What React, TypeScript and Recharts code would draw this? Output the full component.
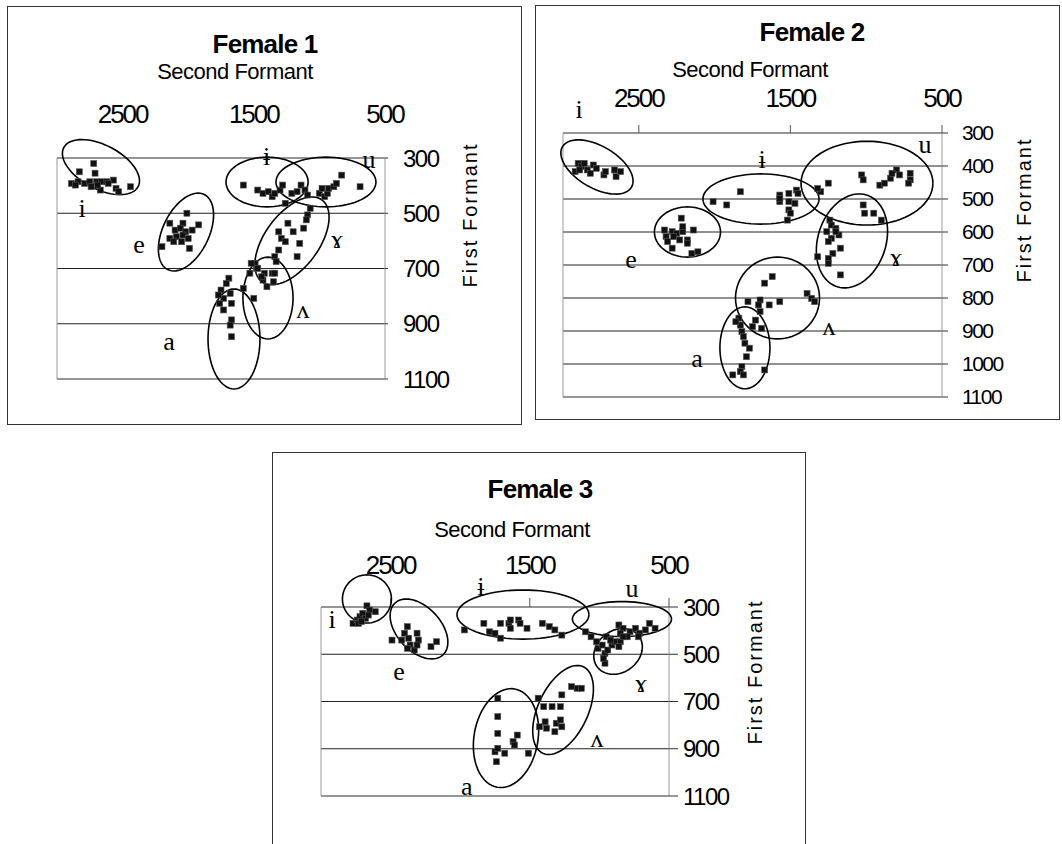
import React from "react";
import { ScatterChart, Scatter, XAxis, YAxis, CartesianGrid, ReferenceArea } from "recharts";

// ---------- Female 1 (F2 Hz, F1 Hz) ----------
const f1IF2 = [2720, 2830, 2710, 2890, 2840, 2790, 2750, 2700, 2660, 2620, 2570, 2740, 2670, 2550, 2530, 2440, 2860, 2690, 2610];
const f1IF1 = [320, 350, 355, 392, 386, 392, 386, 386, 386, 386, 380, 404, 416, 410, 422, 404, 398, 398, 392];
const f1EF2 = [2010, 2140, 2040, 1920, 2100, 2060, 2020, 1970, 2140, 2090, 2040, 2000, 2110, 2050, 2200, 1990];
const f1EF1 = [500, 536, 536, 542, 561, 554, 567, 561, 591, 585, 579, 591, 603, 603, 621, 627];
const f1BarIF2 = [1580, 1470, 1430, 1390, 1360, 1340, 1300, 1280, 1260];
const f1BarIF1 = [398, 416, 428, 422, 440, 428, 416, 398, 464];
const f1UF2 = [1210, 1170, 1140, 1110, 1090, 1000, 960, 980, 940, 930, 890, 870, 830, 690];
const f1UF1 = [428, 422, 398, 416, 434, 428, 440, 410, 428, 410, 404, 392, 362, 404];
const f1RamF2 = [1070, 1090, 1100, 1240, 1120, 1310, 1200, 1290, 1260, 1150, 1310, 1340, 1170, 1330];
const f1RamF1 = [482, 506, 524, 536, 554, 567, 567, 591, 603, 609, 633, 657, 657, 675];
const f1WedgeF2 = [1490, 1480, 1420, 1360, 1430, 1350, 1400, 1530, 1340, 1500, 1580, 1440, 1470, 1520];
const f1WedgeF1 = [681, 699, 717, 717, 742, 748, 766, 717, 717, 808, 772, 730, 699, 681];
const f1AF2 = [1690, 1750, 1680, 1730, 1670, 1760, 1730, 1670, 1680, 1670, 1710, 1770];
const f1AF1 = [735, 778, 790, 808, 826, 826, 850, 886, 905, 947, 754, 796];
// ellipses: centre, first and second half-axis (Hz)
const f1EllCentre = [[2665, 333], [2017, 568], [1399, 387], [950, 387], [1209, 600], [1392, 807], [1651, 955]];
const f1EllAxisA = [[-283, 71], [-139, -136], [-313, 0], [-381, 0], [-229, -148], [0, 148], [0, 181]];
const f1EllAxisB = [[79, 70], [-158, 37], [0, 90], [0, 90], [-166, 58], [-191, 0], [-198, 0]];
const f1Labels = ["i", "e", "a", "ɨ", "u", "ɤ", "ʌ"];
const f1LabelF2 = [2809, 2375, 2146, 1402, 622, 866, 1125];
const f1LabelF1 = [514, 644, 995, 325, 336, 626, 879];

// ---------- Female 2 ----------
const f2IF2 = [2920, 2900, 2880, 2860, 2840, 2820, 2800, 2780, 2730, 2720, 2660, 2650, 2890, 2620];
const f2IF1 = [417, 392, 402, 392, 412, 422, 397, 407, 427, 417, 412, 432, 412, 417];
const f2EF2 = [2220, 2330, 2280, 2250, 2210, 2140, 2320, 2270, 2230, 2180, 2310, 2280, 2180, 2150, 2110, 2210];
const f2EF1 = [558, 594, 599, 604, 599, 594, 614, 614, 624, 624, 629, 649, 634, 665, 660, 584];
const f2BarIF2 = [2010, 1920, 1830, 1570, 1570, 1510, 1460, 1510, 1470, 1510, 1500, 1520, 1570, 1450];
const f2BarIF1 = [508, 518, 478, 488, 508, 483, 473, 508, 513, 533, 543, 564, 498, 483];
const f2UF2 = [1300, 1250, 1320, 1030, 1020, 910, 880, 840, 800, 780, 830, 710, 710, 720];
const f2UF1 = [478, 452, 468, 427, 442, 458, 452, 437, 412, 427, 422, 422, 442, 452];
const f2RamF2 = [1240, 1230, 1260, 1200, 1180, 1230, 1250, 1170, 1220, 1320, 1250, 1250, 1170, 1020, 1010, 950, 900, 1200];
const f2RamF1 = [564, 579, 599, 589, 609, 619, 629, 649, 665, 675, 680, 695, 730, 518, 543, 543, 564, 599];
const f2WedgeF2 = [1620, 1670, 1780, 1700, 1710, 1640, 1570, 1700, 1390, 1360, 1340, 1840, 1730, 1690, 1750];
const f2WedgeF1 = [735, 755, 811, 806, 821, 821, 811, 841, 786, 801, 811, 861, 867, 892, 887];
const f2AF2 = [1830, 1820, 1810, 1800, 1770, 1790, 1820, 1830, 1880, 1810, 1670, 1860];
const f2AF1 = [882, 902, 917, 937, 952, 978, 1008, 1023, 1033, 1033, 1018, 872];
const f2EllCentre = [[2776, 403], [2179, 600], [1694, 500], [995, 452], [1094, 627], [1585, 800], [1800, 951]];
const f2EllAxisA = [[-228, 61], [-218, 0], [-383, 0], [-435, 0], [-97, -139], [-277, 0], [0, 124]];
const f2EllAxisB = [[69, 55], [0, 76], [0, 76], [0, 127], [-214, 31], [0, 124], [-165, 0]];
const f2Labels = ["i", "ɨ", "u", "e", "ɤ", "ʌ", "a"];
const f2LabelF2 = [2894, 1687, 612, 2551, 804, 1245, 2116];
const f2LabelF1 = [255, 406, 361, 709, 703, 912, 1009];

// ---------- Female 3 ----------
const f3IF2 = [2770, 2740, 2720, 2700, 2670, 2650, 2610, 2730, 2680, 2710, 2660];
const f3IF1 = [369, 355, 341, 327, 295, 313, 320, 369, 348, 362, 334];
const f3EF2 = [2380, 2400, 2490, 2420, 2370, 2310, 2300, 2360, 2330, 2380, 2210, 2170, 2310];
const f3EF1 = [383, 411, 440, 440, 432, 411, 440, 461, 482, 475, 468, 447, 461];
const f3BarIF2 = [1970, 1830, 1790, 1750, 1710, 1710, 1650, 1640, 1580, 1520, 1410, 1360, 1320, 1270, 1570, 1640];
const f3BarIF1 = [397, 369, 405, 411, 432, 369, 369, 390, 355, 390, 369, 383, 397, 419, 369, 355];
const f3UF2 = [1100, 1060, 1020, 950, 860, 830, 780, 740, 710, 670, 640, 600, 720, 800, 850];
const f3UF1 = [405, 426, 447, 426, 376, 390, 405, 390, 411, 397, 369, 390, 426, 426, 411];
const f3RamF2 = [1010, 980, 960, 960, 940, 910, 890, 850, 830, 920, 970, 860];
const f3RamF1 = [475, 461, 496, 538, 482, 461, 447, 447, 426, 440, 517, 468];
const f3WedgeF2 = [1200, 1160, 1130, 1270, 1440, 1400, 1340, 1280, 1390, 1380, 1310, 1280, 1320, 1430, 1270];
const f3WedgeF1 = [637, 644, 644, 672, 686, 722, 722, 722, 786, 813, 792, 778, 828, 807, 807];
const f3AF2 = [1730, 1730, 1730, 1750, 1730, 1680, 1740, 1620, 1590, 1610, 1510];
const f3AF1 = [686, 764, 835, 913, 898, 919, 955, 870, 842, 884, 919];
const f3EllCentre = [[2670, 266], [2296, 393], [1549, 332], [838, 351], [866, 488], [1261, 736], [1671, 855]];
const f3EllAxisA = [[-176, 0], [-172, 110], [-474, 0], [-356, 0], [-149, -66], [-146, -183], [-63, -208]];
const f3EllAxisB = [[0, 102], [116, 63], [0, 104], [0, 74], [-91, 71], [-162, 45], [-226, 24]];
const f3Labels = ["i", "e", "a", "ɨ", "u", "ɤ", "ʌ"];
const f3LabelF2 = [2921, 2440, 1953, 1851, 766, 701, 1017];
const f3LabelF1 = [389, 609, 1096, 249, 258, 660, 893];

const xTicks = [2500, 1500, 500];
const yTicksCoarse = [300, 500, 700, 900, 1100];
const yTicksFine = [300, 400, 500, 600, 700, 800, 900, 1000, 1100];

const SANS = "'Liberation Sans', Arial, sans-serif";
const SERIF = "'Liberation Serif', 'Times New Roman', serif";

type Pt = { f2: number; f1: number; label?: string };

const zip = (f2: number[], f1: number[]): Pt[] => f2.map((v, k) => ({ f2: v, f1: f1[k] }));

const ellipse = (c: number[], a: number[], b: number[]): Pt[] => {
  const out: Pt[] = [];
  for (let k = 0; k <= 72; k++) {
    const t = (k / 72) * Math.PI * 2;
    out.push({
      f2: c[0] + a[0] * Math.cos(t) + b[0] * Math.sin(t),
      f1: c[1] + a[1] * Math.cos(t) + b[1] * Math.sin(t),
    });
  }
  return out;
};

const labelPts = (txt: string[], f2: number[], f1: number[]): Pt[] =>
  txt.map((s, k) => ({ f2: f2[k], f1: f1[k], label: s }));

const Square = (p: any) => (
  <rect x={p.cx - 3} y={p.cy - 3} width={6} height={6} fill="#111" stroke="#555" strokeWidth={0.6} />
);
const Nothing = () => <g />;
const Glyph = (p: any) => (
  <text x={p.cx} y={p.cy} textAnchor="middle" fontFamily={SERIF} fontSize={26} fill="#000">
    {p.payload?.label ?? p.label}
  </text>
);

const panels = [
  {
    title: "Female 1",
    box: [7, 6, 522, 425],
    plot: [57, 158, 385, 379],
    yTicks: yTicksCoarse,
    xTick: [0, 35],
    yTick: [3, 15],
    yFont: 24,
    head: [265, 53, 235, 79, 470, 215],
    points: [
      ...zip(f1IF2, f1IF1), ...zip(f1EF2, f1EF1), ...zip(f1BarIF2, f1BarIF1), ...zip(f1UF2, f1UF1),
      ...zip(f1RamF2, f1RamF1), ...zip(f1WedgeF2, f1WedgeF1), ...zip(f1AF2, f1AF1),
    ],
    ells: f1EllCentre.map((c, k) => ellipse(c, f1EllAxisA[k], f1EllAxisB[k])),
    labels: labelPts(f1Labels, f1LabelF2, f1LabelF1),
  },
  {
    title: "Female 2",
    box: [535, 5, 1060, 420],
    plot: [563, 133, 942, 397],
    yTicks: yTicksFine,
    xTick: [8, 18],
    yTick: [6, 14],
    yFont: 21,
    head: [812, 41, 750, 77, 1024, 210],
    points: [
      ...zip(f2IF2, f2IF1), ...zip(f2EF2, f2EF1), ...zip(f2BarIF2, f2BarIF1), ...zip(f2UF2, f2UF1),
      ...zip(f2RamF2, f2RamF1), ...zip(f2WedgeF2, f2WedgeF1), ...zip(f2AF2, f2AF1),
    ],
    ells: f2EllCentre.map((c, k) => ellipse(c, f2EllAxisA[k], f2EllAxisB[k])),
    labels: labelPts(f2Labels, f2LabelF2, f2LabelF1),
  },
  {
    title: "Female 3",
    box: [272, 452, 806, 852],
    plot: [321, 607, 669, 796],
    yTicks: yTicksCoarse,
    xTick: [9, 24],
    yTick: [9, 5],
    yFont: 24,
    head: [540, 498, 512, 537, 755, 672],
    points: [
      ...zip(f3IF2, f3IF1), ...zip(f3EF2, f3EF1), ...zip(f3BarIF2, f3BarIF1), ...zip(f3UF2, f3UF1),
      ...zip(f3RamF2, f3RamF1), ...zip(f3WedgeF2, f3WedgeF1), ...zip(f3AF2, f3AF1),
    ],
    ells: f3EllCentre.map((c, k) => ellipse(c, f3EllAxisA[k], f3EllAxisB[k])),
    labels: labelPts(f3Labels, f3LabelF2, f3LabelF1),
  },
];

function Panel({ cfg }: { cfg: (typeof panels)[number] }) {
  const [bl, bt, br, bb] = cfg.box;
  const [pl, pt, pr, pb] = cfg.plot;
  const w = br - bl;
  const h = bb - bt;
  const xAxisH = 30;
  const yAxisW = 60;
  const margin = { left: pl - bl, top: pt - bt - xAxisH, right: br - pr - yAxisW, bottom: bb - pb };
  return (
    <div
      style={{
        position: "absolute",
        left: bl,
        top: bt,
        width: w,
        height: h,
        boxSizing: "border-box",
        border: "1px solid #333",
        background: "#fff",
      }}
    >
      <div style={{ position: "absolute", left: -1, top: -1 }}>
        <ScatterChart width={w} height={h} margin={margin}>
          <CartesianGrid vertical={false} stroke="#222" />
          <XAxis
            type="number"
            dataKey="f2"
            orientation="top"
            domain={[500, 3000]}
            reversed
            allowDataOverflow
            ticks={xTicks}
            interval={0}
            height={xAxisH}
            axisLine={false}
            tickLine={cfg.xTick[0] > 0 ? { stroke: "#555" } : false}
            tickSize={cfg.xTick[0]}
            tickMargin={cfg.xTick[1]}
            tick={{ fill: "#000", fontSize: 26, fontFamily: SANS, letterSpacing: -2 }}
          />
          <YAxis
            type="number"
            dataKey="f1"
            orientation="right"
            domain={[300, 1100]}
            reversed
            allowDataOverflow
            ticks={cfg.yTicks}
            interval={0}
            width={yAxisW}
            axisLine={false}
            tickLine={{ stroke: "#333" }}
            tickSize={cfg.yTick[0]}
            tickMargin={cfg.yTick[1]}
            tick={{ fill: "#000", fontSize: cfg.yFont, fontFamily: SANS, letterSpacing: -1.5 }}
          />
          <ReferenceArea x1={3000} x2={500} y1={300} y2={1100} fill="none" stroke="#999" ifOverflow="visible" />
          {cfg.ells.map((e, k) => (
            <Scatter
              key={"ell" + k}
              data={e}
              shape={Nothing}
              line={{ stroke: "#000", strokeWidth: 1.6 }}
              lineType="joint"
              isAnimationActive={false}
            />
          ))}
          <Scatter data={cfg.points} shape={Square} isAnimationActive={false} />
          <Scatter data={cfg.labels} shape={Glyph} isAnimationActive={false} />
        </ScatterChart>
      </div>
    </div>
  );
}

export default function App() {
  return (
    <div style={{ position: "absolute", left: 0, top: 0, width: 1062, height: 844, overflow: "hidden", background: "#fff" }}>
      <style>{`.recharts-scatter{clip-path:none !important}`}</style>
      {panels.map((p) => (
        <Panel key={p.title} cfg={p} />
      ))}
      <svg width={1062} height={844} style={{ position: "absolute", left: 0, top: 0, pointerEvents: "none" }}>
        {panels.map((p) => {
          const [tx, ty, sx, sy, fx, fy] = p.head;
          return (
            <g key={p.title}>
              <text x={tx} y={ty} textAnchor="middle" fontFamily={SANS} fontWeight="bold" fontSize={26} letterSpacing={-0.8}>
                {p.title}
              </text>
              <text x={sx} y={sy} textAnchor="middle" fontFamily={SANS} fontSize={22} letterSpacing={-0.5}>
                Second Formant
              </text>
              <text
                x={fx}
                y={fy}
                textAnchor="middle"
                dominantBaseline="central"
                fontFamily={SANS}
                fontSize={20}
                letterSpacing={2}
                transform={`rotate(-90 ${fx} ${fy})`}
              >
                First Formant
              </text>
            </g>
          );
        })}
      </svg>
    </div>
  );
}
